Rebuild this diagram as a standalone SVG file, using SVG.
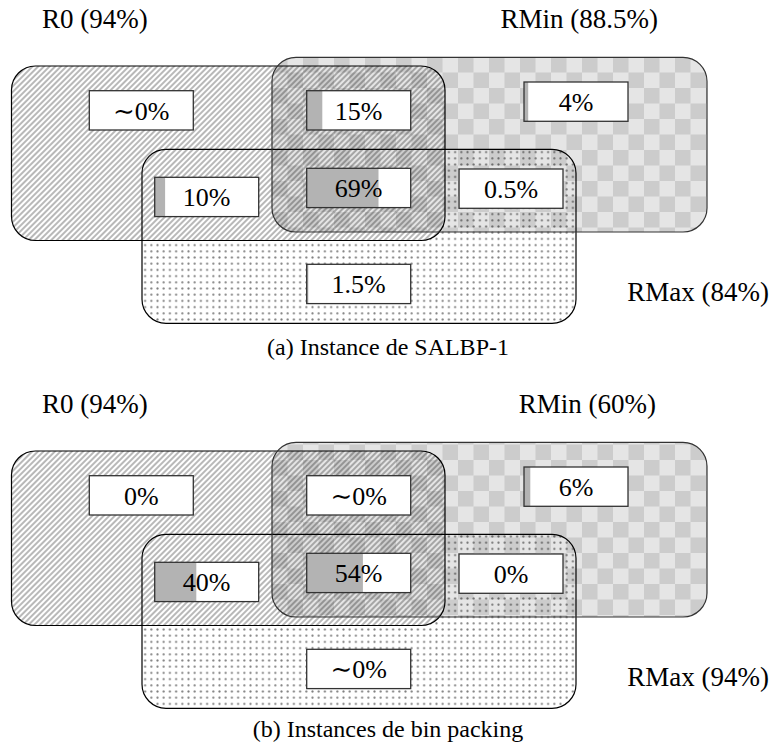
<svg xmlns="http://www.w3.org/2000/svg" width="772" height="744" viewBox="0 0 772 744" font-family="'Liberation Serif','DejaVu Serif',serif">
<style>
.lbl{font-family:"Liberation Serif","DejaVu Serif",serif;font-size:27px;fill:#000}
.val{font-family:"Liberation Serif","DejaVu Serif",serif;font-size:26px;fill:#000;text-anchor:middle}
.cap{font-family:"Liberation Serif","DejaVu Serif",serif;font-size:24px;fill:#000;text-anchor:middle}
.edge{fill:none;stroke:#000;stroke-width:1.2}
.edgeMin{fill:none;stroke:#333;stroke-width:1.2}
.box{fill:#fff}
.boxEdge{fill:none;stroke:#333;stroke-width:1.3}
.bar{fill:#b3b3b3}
</style>
<defs>
<pattern id="hatch" width="4" height="4" patternUnits="userSpaceOnUse" patternTransform="rotate(-45)">
<rect width="4" height="4" fill="#fff"/>
<line x1="0" y1="2" x2="4" y2="2" stroke="#4d4d4d" stroke-width="0.8"/>
</pattern>
<pattern id="dots" x="142" y="149" width="6.2" height="6.2" patternUnits="userSpaceOnUse">
<rect width="6.2" height="6.2" fill="#fff"/>
<circle cx="3.1" cy="3.1" r="1.05" fill="#808080"/>
</pattern>
<pattern id="checker" x="272" y="57" width="31" height="31" patternUnits="userSpaceOnUse">
<rect width="31" height="31" fill="#000" fill-opacity="0.1"/>
<rect width="15.5" height="15.5" fill="#000" fill-opacity="0.11"/>
<rect x="15.5" y="15.5" width="15.5" height="15.5" fill="#000" fill-opacity="0.11"/>
</pattern>
</defs>

<g id="figure-a">
<g id="a-RMax-fill"><rect x="142" y="149.3" width="434" height="174" rx="24" fill="url(#dots)"/></g>
<g id="a-R0-fill"><rect x="11.5" y="66" width="433.5" height="174.5" rx="24" fill="url(#hatch)"/></g>
<g id="a-RMin-fill"><rect x="272" y="57.3" width="435" height="174.7" rx="24" fill="url(#checker)"/></g>
<g id="a-set-borders">
<rect class="edge" x="142" y="149.3" width="434" height="174" rx="24"/>
<rect class="edge" x="11.5" y="66" width="433.5" height="174.5" rx="24"/>
<rect class="edgeMin" x="272" y="57.3" width="435" height="174.7" rx="24"/>
</g>
<g id="a-R0-label"><text class="lbl" x="42" y="28">R0 (94%)</text></g>
<g id="a-RMin-label"><text class="lbl" x="658" y="28" text-anchor="end">RMin (88.5%)</text></g>
<g id="a-RMax-label"><text class="lbl" x="769" y="301" text-anchor="end">RMax (84%)</text></g>

<g id="a-box-r0only"><rect class="box" x="89.3" y="90.7" width="104" height="39.3"/><rect class="boxEdge" x="89.3" y="90.7" width="104" height="39.3"/><text class="val" x="141.3" y="119.7">∼0%</text></g>
<g id="a-box-r0-rmin"><rect class="box" x="306.7" y="90.7" width="104" height="39.3"/><rect class="bar" x="306.7" y="90.7" width="15.6" height="39.3"/><rect class="boxEdge" x="306.7" y="90.7" width="104" height="39.3"/><text class="val" x="358.7" y="119.7">15%</text></g>
<g id="a-box-rminonly"><rect class="box" x="524" y="82" width="104" height="39.3"/><rect class="bar" x="524" y="82" width="4.2" height="39.3"/><rect class="boxEdge" x="524" y="82" width="104" height="39.3"/><text class="val" x="576" y="111">4%</text></g>
<g id="a-box-r0-rmax"><rect class="box" x="154.7" y="177.3" width="104" height="39.3"/><rect class="bar" x="154.7" y="177.3" width="10.4" height="39.3"/><rect class="boxEdge" x="154.7" y="177.3" width="104" height="39.3"/><text class="val" x="206.7" y="206.3">10%</text></g>
<g id="a-box-all"><rect class="box" x="306.7" y="168.3" width="104" height="39.3"/><rect class="bar" x="306.7" y="168.3" width="71.8" height="39.3"/><rect class="boxEdge" x="306.7" y="168.3" width="104" height="39.3"/><text class="val" x="358.7" y="197.3">69%</text></g>
<g id="a-box-rmin-rmax"><rect class="box" x="459" y="169" width="104" height="39.3"/><rect class="bar" x="459" y="169" width="0.6" height="39.3"/><rect class="boxEdge" x="459" y="169" width="104" height="39.3"/><text class="val" x="511" y="198">0.5%</text></g>
<g id="a-box-rmaxonly"><rect class="box" x="306.7" y="264.3" width="104" height="39.3"/><rect class="bar" x="306.7" y="264.3" width="1.6" height="39.3"/><rect class="boxEdge" x="306.7" y="264.3" width="104" height="39.3"/><text class="val" x="358.7" y="293.3">1.5%</text></g>
<g id="a-caption"><text class="cap" x="388" y="355">(a) Instance de SALBP-1</text></g>
</g>

<g id="figure-b">
<g id="b-RMax-fill"><rect x="142" y="534.3" width="434" height="174" rx="24" fill="url(#dots)"/></g>
<g id="b-R0-fill"><rect x="11.5" y="451" width="433.5" height="174.5" rx="24" fill="url(#hatch)"/></g>
<g id="b-RMin-fill"><rect x="272" y="442.3" width="435" height="174.7" rx="24" fill="url(#checker)"/></g>
<g id="b-set-borders">
<rect class="edge" x="142" y="534.3" width="434" height="174" rx="24"/>
<rect class="edge" x="11.5" y="451" width="433.5" height="174.5" rx="24"/>
<rect class="edgeMin" x="272" y="442.3" width="435" height="174.7" rx="24"/>
</g>
<g id="b-R0-label"><text class="lbl" x="42" y="413">R0 (94%)</text></g>
<g id="b-RMin-label"><text class="lbl" x="656" y="413" text-anchor="end">RMin (60%)</text></g>
<g id="b-RMax-label"><text class="lbl" x="769" y="686" text-anchor="end">RMax (94%)</text></g>

<g id="b-box-r0only"><rect class="box" x="89.3" y="475.7" width="104" height="39.3"/><rect class="boxEdge" x="89.3" y="475.7" width="104" height="39.3"/><text class="val" x="141.3" y="504.7">0%</text></g>
<g id="b-box-r0-rmin"><rect class="box" x="306.7" y="475.7" width="104" height="39.3"/><rect class="boxEdge" x="306.7" y="475.7" width="104" height="39.3"/><text class="val" x="358.7" y="504.7">∼0%</text></g>
<g id="b-box-rminonly"><rect class="box" x="524" y="467" width="104" height="39.3"/><rect class="bar" x="524" y="467" width="6.3" height="39.3"/><rect class="boxEdge" x="524" y="467" width="104" height="39.3"/><text class="val" x="576" y="496">6%</text></g>
<g id="b-box-r0-rmax"><rect class="box" x="154.7" y="562.3" width="104" height="39.3"/><rect class="bar" x="154.7" y="562.3" width="41.6" height="39.3"/><rect class="boxEdge" x="154.7" y="562.3" width="104" height="39.3"/><text class="val" x="206.7" y="591.3">40%</text></g>
<g id="b-box-all"><rect class="box" x="306.7" y="553.3" width="104" height="39.3"/><rect class="bar" x="306.7" y="553.3" width="56.2" height="39.3"/><rect class="boxEdge" x="306.7" y="553.3" width="104" height="39.3"/><text class="val" x="358.7" y="582.3">54%</text></g>
<g id="b-box-rmin-rmax"><rect class="box" x="459" y="554" width="104" height="39.3"/><rect class="boxEdge" x="459" y="554" width="104" height="39.3"/><text class="val" x="511" y="583">0%</text></g>
<g id="b-box-rmaxonly"><rect class="box" x="306.7" y="649.3" width="104" height="39.3"/><rect class="boxEdge" x="306.7" y="649.3" width="104" height="39.3"/><text class="val" x="358.7" y="678.3">∼0%</text></g>
<g id="b-caption"><text class="cap" x="388" y="737">(b) Instances de bin packing</text></g>
</g>
<g id="connectors"/>
</svg>
